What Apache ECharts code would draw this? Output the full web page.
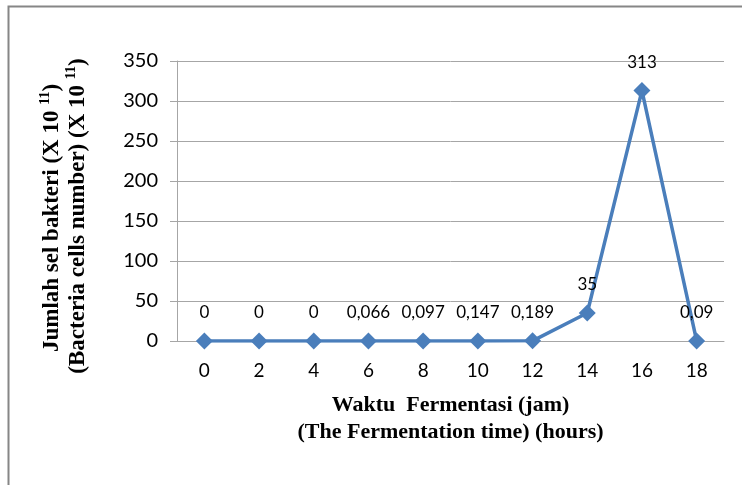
<!DOCTYPE html>
<html>
<head>
<meta charset="utf-8">
<script src="https://cdn.jsdelivr.net/npm/echarts@6/dist/echarts.min.js"></script>
<style>
html,body{margin:0;padding:0;background:#fff;}
#c{width:742px;height:485px;}
</style>
</head>
<body>
<div id="c"></div>
<script>
var categories = ['0','2','4','6','8','10','12','14','16','18'];
var values = [0, 0, 0, 0.066, 0.097, 0.147, 0.189, 35, 313, 0.09];
var valueLabels = ['0','0','0','0,066','0,097','0,147','0,189','35','313','0,09'];
var yTicks = [0, 50, 100, 150, 200, 250, 300, 350];

var chart = echarts.init(document.getElementById('c'));
var serif = '"Liberation Serif", "Times New Roman", serif';
var sans = 'Lato, "Open Sans", sans-serif';
var titleRich = {
  b: {fontFamily: serif, fontWeight: 'bold', fontSize: 23, color: '#000', lineHeight: 27},
  sup: {fontFamily: serif, fontWeight: 'bold', fontSize: 14, color: '#000', verticalAlign: 'top', lineHeight: 27, padding: [0,0,10,0]}
};
chart.setOption({
  animation: false,
  backgroundColor: '#fff',
  grid: {left: 177, right: 18, top: 61, bottom: 144, containLabel: false},
  xAxis: {
    type: 'category',
    data: categories,
    boundaryGap: true,
    axisLine: {lineStyle: {color: '#a6a6a6', width: 1}},
    axisTick: {show: false},
    axisLabel: {fontFamily: sans, fontSize: 19, color: '#000', margin: 20},
    name: 'Waktu  Fermentasi (jam)\n(The Fermentation time) (hours)',
    nameLocation: 'middle',
    nameGap: 51,
    nameTextStyle: {fontFamily: serif, fontWeight: 'bold', fontSize: 22, color: '#000', lineHeight: 27, align: 'center', verticalAlign: 'top'}
  },
  yAxis: {
    type: 'value',
    min: yTicks[0],
    max: yTicks[yTicks.length - 1],
    interval: yTicks[1] - yTicks[0],
    axisLine: {show: true, lineStyle: {color: '#a6a6a6', width: 1}},
    axisTick: {show: true, length: 7, lineStyle: {color: '#a6a6a6'}},
    splitLine: {show: true, lineStyle: {color: '#a6a6a6', width: 1}},
    axisLabel: {fontFamily: sans, fontSize: 20, color: '#000', margin: 19}
  },
  graphic: [
    {
      type: 'rect',
      shape: {x: 8.5, y: 6.5, width: 760, height: 500},
      style: {fill: 'none', stroke: '#868686', lineWidth: 2},
      silent: true
    },
    {
      type: 'text',
      x: 52, y: 218,
      rotation: Math.PI / 2,
      style: {
        text: '{b|Jumlah sel bakteri (X 10 }{sup|11}{b|)}',
        rich: titleRich,
        align: 'center', verticalAlign: 'middle'
      }
    },
    {
      type: 'text',
      x: 78, y: 216,
      rotation: Math.PI / 2,
      style: {
        text: '{b|(Bacteria cells number) (X 10 }{sup|11}{b|)}',
        rich: titleRich,
        align: 'center', verticalAlign: 'middle'
      }
    }
  ],
  series: [{
    type: 'line',
    data: values,
    symbol: 'diamond',
    symbolSize: 17,
    lineStyle: {color: '#4a7ebb', width: 3.5},
    itemStyle: {color: '#4a7ebb'},
    label: {
      show: true,
      position: 'top',
      distance: 11,
      fontFamily: sans,
      fontSize: 17,
      color: '#000',
      formatter: function (p) { return valueLabels[p.dataIndex]; }
    }
  }]
});
</script>
</body>
</html>
